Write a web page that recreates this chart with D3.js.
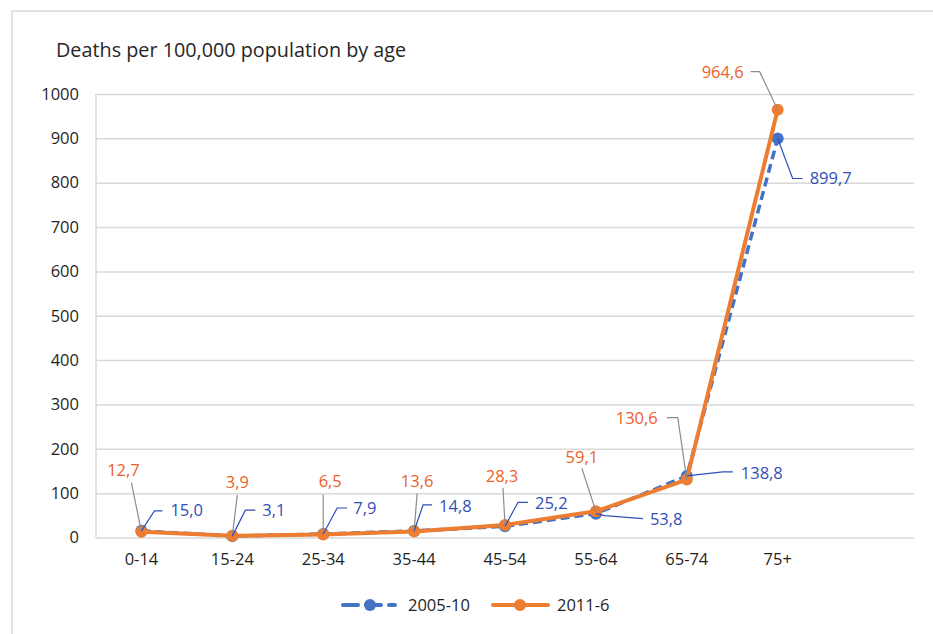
<!DOCTYPE html>
<html><head><meta charset="utf-8">
<script src="https://cdn.jsdelivr.net/npm/d3@7"></script>
<style>body{margin:0;background:#fff}svg{display:block}text{font-family:"Open Sans",sans-serif}</style>
</head><body><svg id="c" width="933" height="634"></svg>
<script>
const categories = ["0-14","15-24","25-34","35-44","45-54","55-64","65-74","75+"];
const series2005 = [15.0,3.1,7.9,14.8,25.2,53.8,138.8,899.7];
const series2011 = [12.7,3.9,6.5,13.6,28.3,59.1,130.6,964.6];
const seriesNames = ["2005-10","2011-6"];
const yTicks = [0,100,200,300,400,500,600,700,800,900,1000];

// label layout (pixel offsets from the point), not data
const lab2011 = [
  {dx:-18,dy:-62,a:"middle",p:[[-10,-49]]},
  {dx:5,dy:-54,a:"middle",p:[[5,-41]]},
  {dx:7,dy:-53,a:"middle",p:[[0,-40]]},
  {dx:3,dy:-50,a:"middle",p:[[3,-38]]},
  {dx:-3,dy:-49,a:"middle",p:[[-2,-37]]},
  {dx:-14,dy:-54,a:"middle",p:[[-14,-43]]},
  {dx:-29,dy:-61,a:"end",p:[[-20,-62],[-9,-62]]},
  {dx:-34,dy:-37,a:"end",p:[[-27,-38],[-18,-38]]}
];
const lab2005 = [
  {dx:29,dy:-21,a:"start",p:[[21,-20],[13,-20]]},
  {dx:30,dy:-26,a:"start",p:[[23,-26],[13,-26]]},
  {dx:30,dy:-26,a:"start",p:[[24,-26],[14,-26]]},
  {dx:25,dy:-25,a:"start",p:[[18,-26],[9,-26]]},
  {dx:30,dy:-23,a:"start",p:[[23,-24],[13,-24]]},
  {dx:54,dy:6,a:"start",p:[[47,5],[9,2]]},
  {dx:54,dy:-3,a:"start",p:[[46,-4],[36,-4]]},
  {dx:32,dy:40,a:"start",p:[[25,40],[15,40]]}
];

const svg = d3.select("#c");
const L=96, R=914, T=94, B=537.5;
const blue="#4472C4", orange="#ED7D31", blueTxt="#2F4FB8", orangeTxt="#EC5F2A";
const fmt = v => d3.format(".1f")(v).replace(".",",");

svg.append("rect").attr("x",12).attr("y",11).attr("width",1000).attr("height",700)
  .attr("fill","none").attr("stroke","#d9d9d9").attr("stroke-width",1.5);

svg.append("text").attr("x",56).attr("y",57).attr("font-size",19.8).attr("fill","#262626")
  .text("Deaths per 100,000 population by age");

const band = (R-L)/9;
const x = d3.scaleBand().domain(categories).range([L, L+band*categories.length]);
const y = d3.scaleLinear().domain([0,1000]).range([B,T]);
const cx = c => x(c)+x.bandwidth()/2;

const ya = svg.append("g").attr("transform",`translate(${L},0)`)
  .call(d3.axisLeft(y).tickValues(yTicks).tickFormat(d3.format("d")).tickSize(-(R-L)).tickPadding(17));
ya.select(".domain").remove();
ya.selectAll(".tick line").attr("stroke","#d9d9d9").attr("stroke-width",1.5);
ya.selectAll(".tick text").attr("font-size",16.5).attr("fill","#1f1f1f").attr("font-family","Open Sans");

svg.append("line").attr("x1",L).attr("x2",L).attr("y1",T).attr("y2",B)
  .attr("stroke","#d9d9d9").attr("stroke-width",1.5);

const xa = svg.append("g").attr("transform",`translate(0,${B})`)
  .call(d3.axisBottom(x).tickSize(0).tickPadding(16));
xa.select(".domain").remove();
xa.selectAll(".tick text").attr("font-size",16.5).attr("fill","#1f1f1f").attr("font-family","Open Sans");

const line = d3.line().x((d,i)=>cx(categories[i])).y(d=>y(d));

svg.append("path").datum(series2005).attr("d",line).attr("fill","none")
  .attr("stroke",blue).attr("stroke-width",3.5).attr("stroke-dasharray","9,5");
svg.selectAll(".p05").data(series2005).enter().append("circle")
  .attr("cx",(d,i)=>cx(categories[i])).attr("cy",d=>y(d)).attr("r",6).attr("fill",blue);

svg.append("path").datum(series2011).attr("d",line).attr("fill","none")
  .attr("stroke",orange).attr("stroke-width",4).attr("stroke-linejoin","round");
svg.selectAll(".p11").data(series2011).enter().append("circle")
  .attr("cx",(d,i)=>cx(categories[i])).attr("cy",d=>y(d)).attr("r",6).attr("fill",orange);

function labels(data, lay, txtCol, leadCol){
  data.forEach((v,i)=>{
    const px=cx(categories[i]), py=y(v), l=lay[i];
    const pts=l.p.map(q=>[px+q[0],py+q[1]]).concat([[px,py]]);
    svg.append("path").attr("d",d3.line()(pts)).attr("fill","none")
      .attr("stroke",leadCol).attr("stroke-width",1.2);
    svg.append("text").attr("x",px+l.dx).attr("y",py+l.dy).attr("dy","0.35em")
      .attr("text-anchor",l.a).attr("font-size",16.5).attr("fill",txtCol).text(fmt(v));
  });
}
labels(series2011, lab2011, orangeTxt, "#8c8c8c");
labels(series2005, lab2005, blueTxt, blueTxt);

// legend
const lg = svg.append("g");
const LY = 605;
lg.append("line").attr("x1",343).attr("x2",395).attr("y1",LY).attr("y2",LY)
  .attr("stroke",blue).attr("stroke-width",4).attr("stroke-dasharray","15,8").attr("stroke-linecap","round");
lg.append("circle").attr("cx",370).attr("cy",LY).attr("r",6).attr("fill",blue);
lg.append("text").attr("x",408).attr("y",LY).attr("dy","0.35em").attr("font-size",16.5).attr("fill","#1f1f1f").text(seriesNames[0]);
lg.append("line").attr("x1",493).attr("x2",548).attr("y1",LY).attr("y2",LY)
  .attr("stroke",orange).attr("stroke-width",4).attr("stroke-linecap","round");
lg.append("circle").attr("cx",520).attr("cy",LY).attr("r",6).attr("fill",orange);
lg.append("text").attr("x",557).attr("y",LY).attr("dy","0.35em").attr("font-size",16.5).attr("fill","#1f1f1f").text(seriesNames[1]);
</script></body></html>
